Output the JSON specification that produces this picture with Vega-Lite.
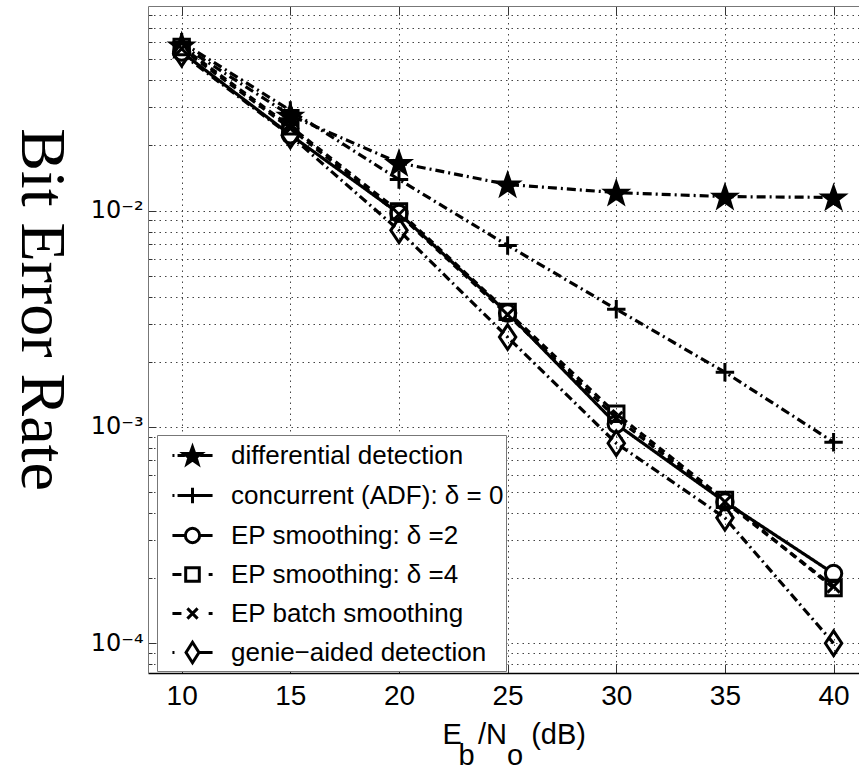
{
  "$schema": "https://vega.github.io/schema/vega-lite/v6.json",
  "width": 711,
  "height": 667,
  "autosize": {"type": "none"},
  "padding": {"left": 148, "top": 6, "right": 0, "bottom": 97},
  "background": "white",
  "config": {"view": {"stroke": null}, "font": "Liberation Sans"},
  "data": {"values": [
    {"series": "differential detection", "snr": 10, "ber": 0.058},
    {"series": "differential detection", "snr": 15, "ber": 0.0275},
    {"series": "differential detection", "snr": 20, "ber": 0.0166},
    {"series": "differential detection", "snr": 25, "ber": 0.0132},
    {"series": "differential detection", "snr": 30, "ber": 0.0121},
    {"series": "differential detection", "snr": 35, "ber": 0.0116},
    {"series": "differential detection", "snr": 40, "ber": 0.0115},
    {"series": "concurrent (ADF): δ = 0", "snr": 10, "ber": 0.06},
    {"series": "concurrent (ADF): δ = 0", "snr": 15, "ber": 0.029},
    {"series": "concurrent (ADF): δ = 0", "snr": 20, "ber": 0.0139},
    {"series": "concurrent (ADF): δ = 0", "snr": 25, "ber": 0.0069},
    {"series": "concurrent (ADF): δ = 0", "snr": 30, "ber": 0.0035},
    {"series": "concurrent (ADF): δ = 0", "snr": 35, "ber": 0.00179},
    {"series": "concurrent (ADF): δ = 0", "snr": 40, "ber": 0.00085},
    {"series": "EP smoothing: δ =2", "snr": 10, "ber": 0.054},
    {"series": "EP smoothing: δ =2", "snr": 15, "ber": 0.0224},
    {"series": "EP smoothing: δ =2", "snr": 20, "ber": 0.0097},
    {"series": "EP smoothing: δ =2", "snr": 25, "ber": 0.00336},
    {"series": "EP smoothing: δ =2", "snr": 30, "ber": 0.00103},
    {"series": "EP smoothing: δ =2", "snr": 35, "ber": 0.00045},
    {"series": "EP smoothing: δ =2", "snr": 40, "ber": 0.00021},
    {"series": "EP smoothing: δ =4", "snr": 10, "ber": 0.057},
    {"series": "EP smoothing: δ =4", "snr": 15, "ber": 0.0245},
    {"series": "EP smoothing: δ =4", "snr": 20, "ber": 0.0099},
    {"series": "EP smoothing: δ =4", "snr": 25, "ber": 0.0034},
    {"series": "EP smoothing: δ =4", "snr": 30, "ber": 0.00115},
    {"series": "EP smoothing: δ =4", "snr": 35, "ber": 0.00046},
    {"series": "EP smoothing: δ =4", "snr": 40, "ber": 0.00018},
    {"series": "EP batch smoothing", "snr": 10, "ber": 0.056},
    {"series": "EP batch smoothing", "snr": 15, "ber": 0.024},
    {"series": "EP batch smoothing", "snr": 20, "ber": 0.0096},
    {"series": "EP batch smoothing", "snr": 25, "ber": 0.0033},
    {"series": "EP batch smoothing", "snr": 30, "ber": 0.0011},
    {"series": "EP batch smoothing", "snr": 35, "ber": 0.00045},
    {"series": "EP batch smoothing", "snr": 40, "ber": 0.000183},
    {"series": "genie−aided detection", "snr": 10, "ber": 0.053},
    {"series": "genie−aided detection", "snr": 15, "ber": 0.0222},
    {"series": "genie−aided detection", "snr": 20, "ber": 0.0081},
    {"series": "genie−aided detection", "snr": 25, "ber": 0.0026},
    {"series": "genie−aided detection", "snr": 30, "ber": 0.00084},
    {"series": "genie−aided detection", "snr": 35, "ber": 0.00038},
    {"series": "genie−aided detection", "snr": 40, "ber": 0.0001}
  ]},
  "encoding": {
    "y": {
      "field": "ber", "type": "quantitative",
      "scale": {"type": "log", "domain": [0.00007285, 0.0882], "nice": false},
      "axis": {
        "values": [0.00008, 0.00009, 0.0001, 0.0002, 0.0003, 0.0004, 0.0005, 0.0006, 0.0007, 0.0008, 0.0009, 0.001, 0.002, 0.003, 0.004, 0.005, 0.006, 0.007, 0.008, 0.009, 0.01, 0.02, 0.03, 0.04, 0.05, 0.06, 0.07, 0.08],
        "labelExpr": "datum.value == 0.01 ? '10⁻²' : datum.value == 0.001 ? '10⁻³' : datum.value == 0.0001 ? '10⁻⁴' : ''",
        "labelOverlap": false,
        "labelFont": "DejaVu Sans",
        "labelFontSize": 24,
        "labelColor": "black",
        "labelPadding": 13,
        "labelBaseline": "middle",
        "tickSize": {"condition": {"test": "datum.value == 0.01 || datum.value == 0.001 || datum.value == 0.0001", "value": -8}, "value": -4},
        "tickColor": "#333",
        "domainColor": "#777",
        "grid": true,
        "gridDash": [1.5, 4],
        "gridColor": "#444",
        "gridWidth": 1,
        "title": "Bit Error Rate",
        "titleFont": "Liberation Serif",
        "titleFontSize": 64,
        "titleFontWeight": "normal",
        "titleColor": "black",
        "titleAngle": 90,
        "titleAlign": "center",
        "titleBaseline": "alphabetic",
        "titleX": -127,
        "titleY": 303
      }
    }
  },
  "layer": [
    {
      "mark": {"type": "line", "strokeWidth": 3.2, "color": "black"},
      "encoding": {
        "x": {
          "field": "snr", "type": "quantitative",
          "scale": {"domain": [8.45, 41.17], "nice": false, "zero": false},
          "axis": {
            "values": [10, 15, 20, 25, 30, 35, 40],
            "format": "d",
            "labelFontSize": 28,
            "labelColor": "black",
            "labelPadding": 18,
            "tickSize": -9,
            "tickColor": "#333",
            "domainColor": "black",
            "domainWidth": 1.5,
            "grid": true,
            "gridDash": [1.5, 4],
            "gridColor": "#444",
            "gridWidth": 1,
            "title": ["E\u00a0\u00a0/N\u00a0\u00a0\u00a0(dB)", "\u200b\u00a0\u00a0b\u00a0\u00a0\u00a0\u00a0o"],
            "titleFontSize": 29,
            "titleFontWeight": "normal",
            "titleColor": "black",
            "titleLineHeight": 21,
            "titleBaseline": "alphabetic",
            "titleAlign": "left",
            "titleX": 294,
            "titleY": 70
          }
        },
        "strokeDash": {
          "field": "series", "type": "nominal",
          "scale": {
            "domain": ["differential detection", "concurrent (ADF): δ = 0", "EP smoothing: δ =2", "EP smoothing: δ =4", "EP batch smoothing", "genie−aided detection"],
            "range": [[9, 4, 2, 4], [9, 4, 2, 4], [1, 0], [7, 5], [7, 5], [9, 4, 2, 4]]
          },
          "legend": null
        }
      }
    },
    {
      "mark": {"type": "point", "filled": true, "stroke": "black", "strokeWidth": 3, "size": 420, "opacity": 1},
      "encoding": {
        "x": {
          "field": "snr", "type": "quantitative",
          "axis": {
            "orient": "top",
            "values": [10, 15, 20, 25, 30, 35, 40],
            "labels": false,
            "title": null,
            "grid": false,
            "tickSize": -9,
            "tickColor": "#333",
            "domainColor": "#777"
          }
        },
        "shape": {
          "field": "series", "type": "nominal",
          "scale": {
            "domain": ["differential detection", "concurrent (ADF): δ = 0", "EP smoothing: δ =2", "EP smoothing: δ =4", "EP batch smoothing", "genie−aided detection"],
            "range": [
              "M0,-1L0.259,-0.256L1.046,-0.24L0.418,0.236L0.647,0.99L0,0.54L-0.647,0.99L-0.418,0.236L-1.046,-0.24L-0.259,-0.256Z",
              "M-0.9,0H0.9M0,-0.9V0.9",
              "M0.8,0A0.8,0.8 0 1,1 -0.8,0A0.8,0.8 0 1,1 0.8,0Z",
              "M-0.75,-0.75H0.75V0.75H-0.75Z",
              "M-0.6,-0.6L0.6,0.6M-0.6,0.6L0.6,-0.6",
              "M0,-1.2L0.8,0L0,1.2L-0.8,0Z"
            ]
          },
          "legend": null
        },
        "fill": {
          "field": "series", "type": "nominal",
          "scale": {
            "domain": ["differential detection", "concurrent (ADF): δ = 0", "EP smoothing: δ =2", "EP smoothing: δ =4", "EP batch smoothing", "genie−aided detection"],
            "range": ["black", "transparent", "white", "transparent", "transparent", "transparent"]
          },
          "legend": null
        }
      }
    },
    {
      "mark": {"type": "point", "filled": false, "color": "black", "strokeWidth": 3, "opacity": 0},
      "encoding": {
        "x": {"field": "snr", "type": "quantitative", "axis": null},
        "shape": {
          "field": "series", "type": "nominal",
          "scale": {
            "domain": ["differential detection", "concurrent (ADF): δ = 0", "EP smoothing: δ =2", "EP smoothing: δ =4", "EP batch smoothing", "genie−aided detection"],
            "range": [
              "M-1.18,0H-1.06M-0.88,0H-0.45M0.45,0H1.18M0,-0.5L0.129,-0.128L0.523,-0.12L0.209,0.118L0.323,0.495L0,0.27L-0.323,0.495L-0.209,0.118L-0.523,-0.12L-0.129,-0.128ZM0,0.05L0,-0.5M0,0.05L0.523,-0.12M0,0.05L0.323,0.495M0,0.05L-0.323,0.495M0,0.05L-0.523,-0.12",
              "M-1.18,0H-1.06M-0.88,0H1.18M0,-0.45V0.45",
              "M-1.18,0H-0.42M0.42,0H1.18M0.42,0A0.42,0.42 0 1,1 -0.42,0A0.42,0.42 0 1,1 0.42,0Z",
              "M-1.18,0H-0.65M0.95,0H1.18M-0.4,-0.4H0.4V0.4H-0.4Z",
              "M-1.18,0H-0.65M0.95,0H1.18M-0.3,-0.3L0.3,0.3M-0.3,0.3L0.3,-0.3",
              "M-1.18,0H-1.06M0.38,0H1.18M0,-0.6L0.38,0L0,0.6L-0.38,0Z"
            ]
          },
          "legend": {
            "orient": "none",
            "legendX": 9,
            "legendY": 429,
            "title": null,
            "symbolSize": 1156,
            "symbolStrokeWidth": 3,
            "symbolStrokeColor": "black",
            "symbolFillColor": "transparent",
            "symbolOpacity": 1,
            "symbolOffset": 15,
            "labelFontSize": 26,
            "labelColor": "black",
            "labelOffset": 20,
            "labelLimit": 0,
            "rowPadding": 7,
            "padding": 2,
            "fillColor": "white",
            "strokeColor": "#777",
            "encode": {
              "symbols": {
                "update": {
                  "stroke": {"value": "black"},
                  "strokeWidth": {"value": 3},
                  "opacity": {"value": 1},
                  "strokeOpacity": {"value": 1}
                }
              }
            }
          }
        }
      }
    }
  ],
  "resolve": {
    "scale": {"shape": "independent", "fill": "independent"},
    "legend": {"shape": "independent", "fill": "independent"},
    "axis": {"x": "independent"}
  }
}
